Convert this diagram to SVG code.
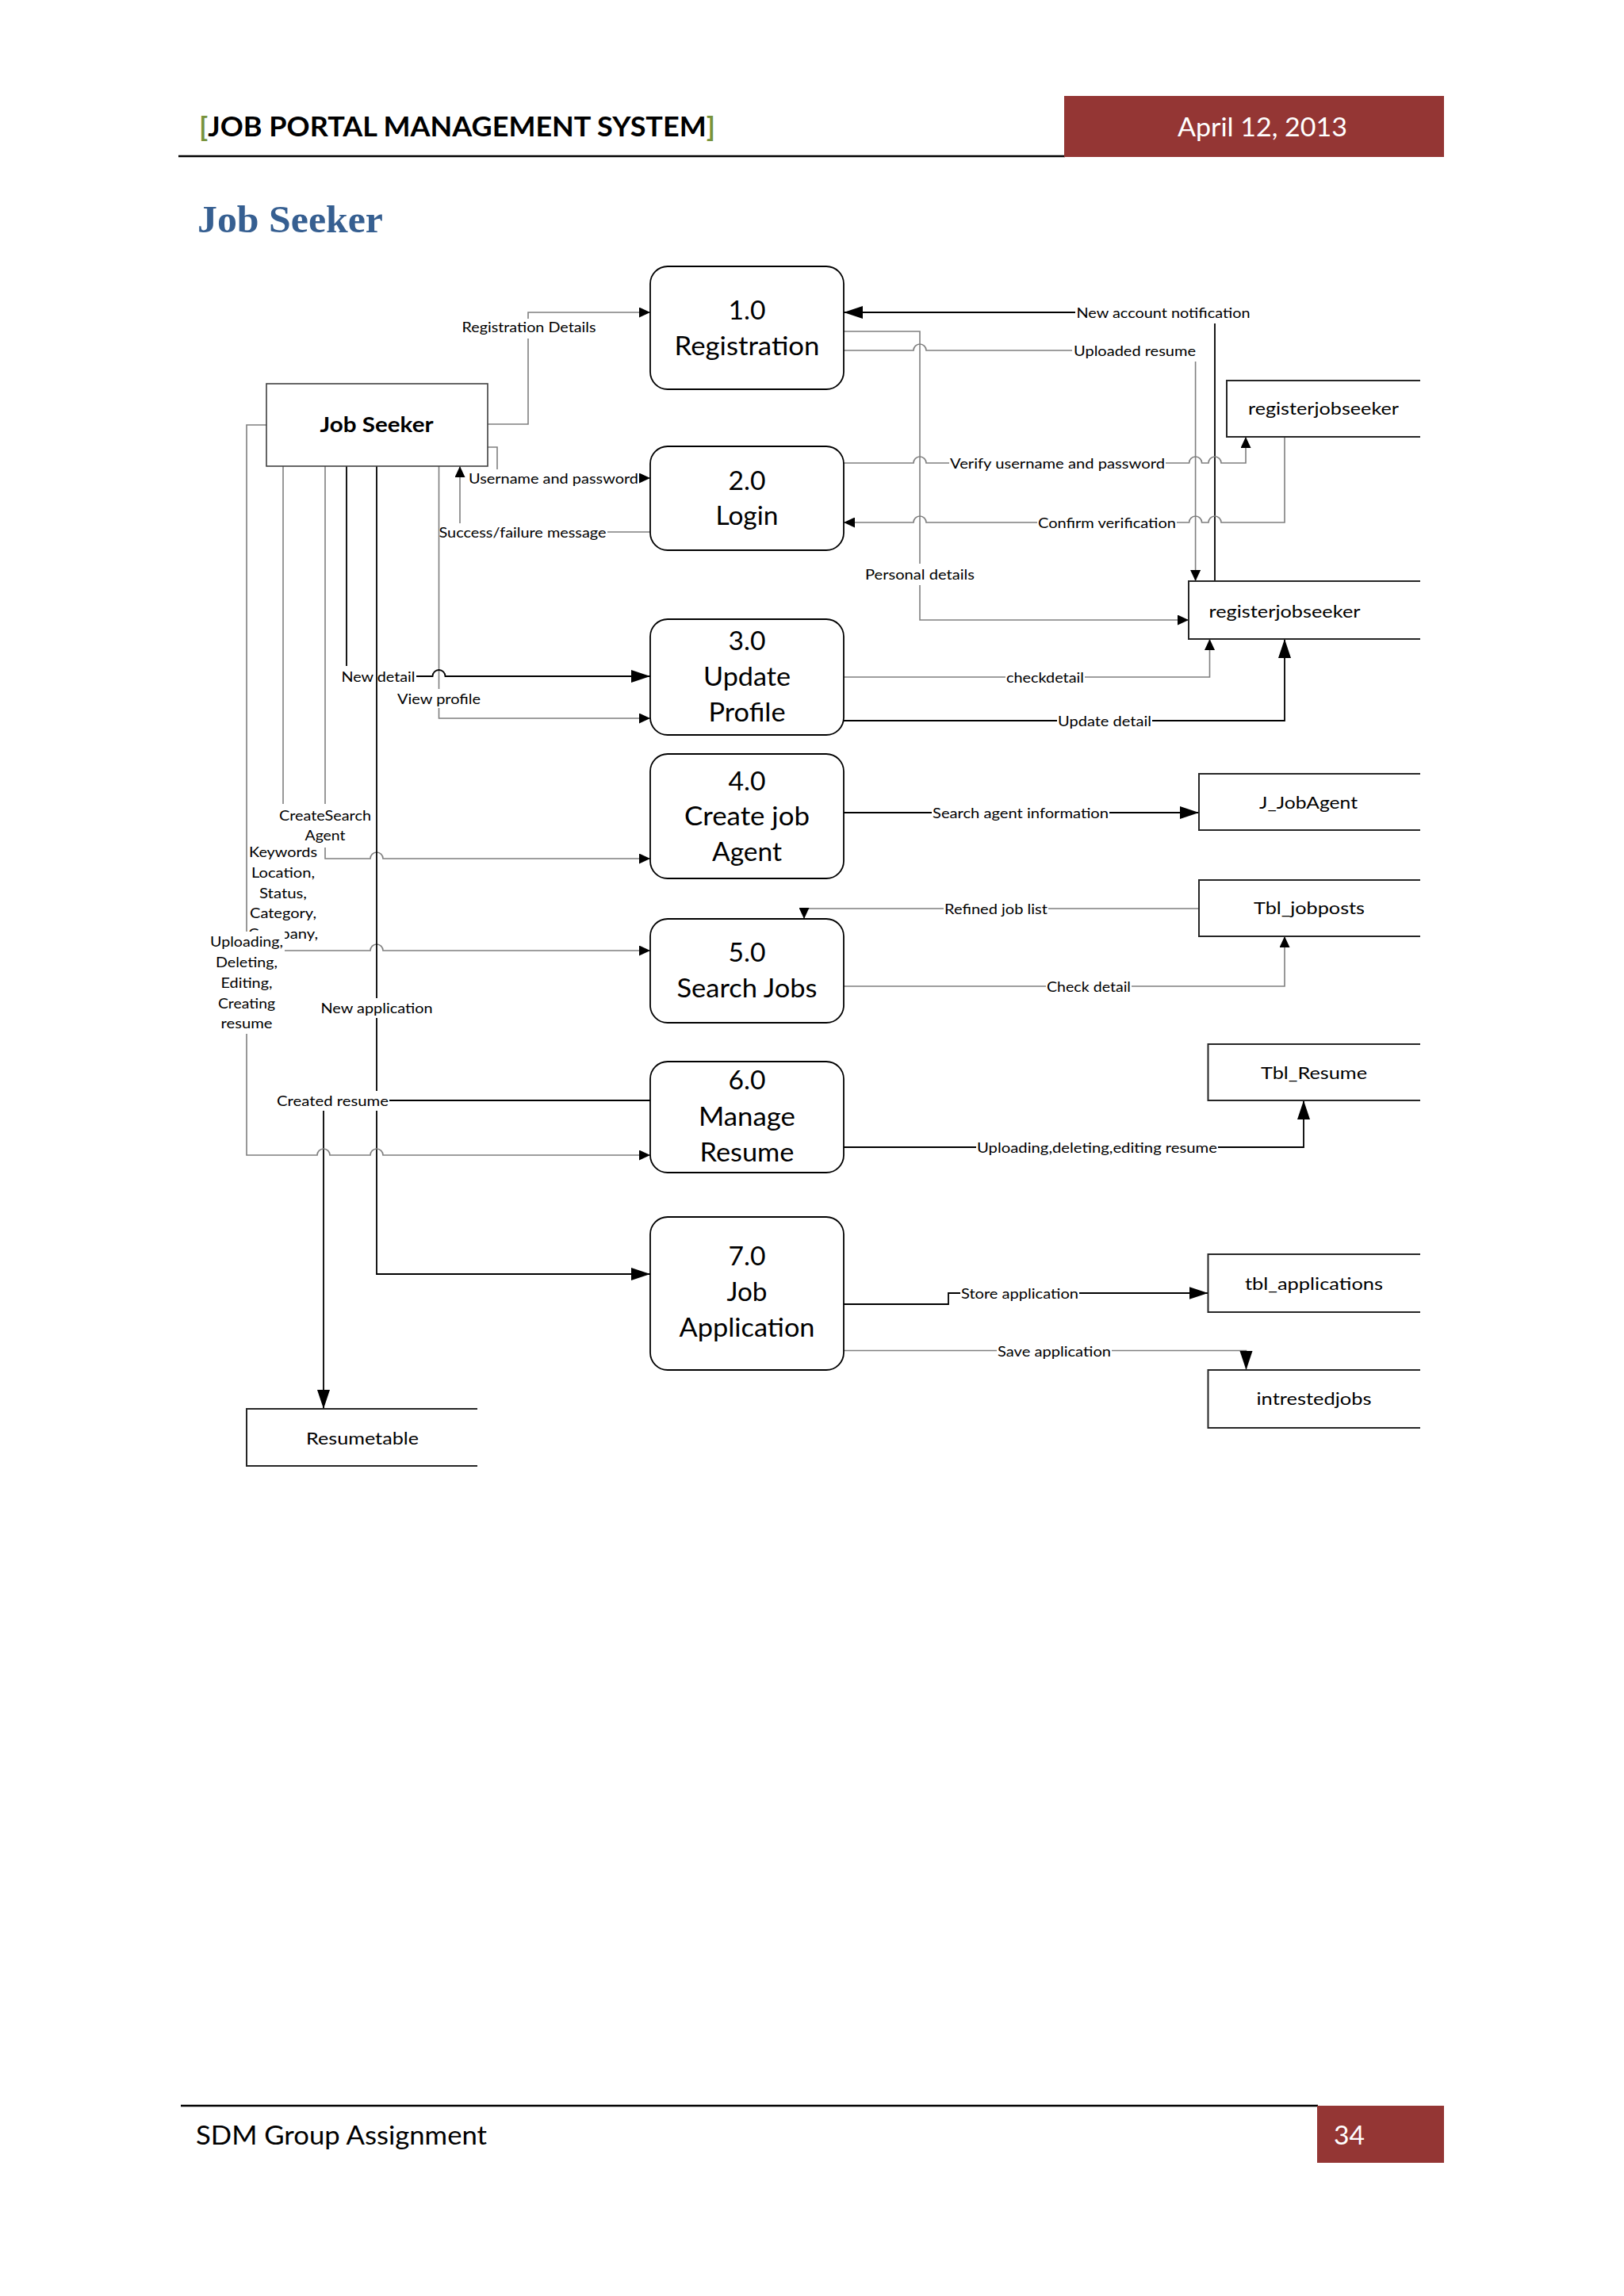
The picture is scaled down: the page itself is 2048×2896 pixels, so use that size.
<svg xmlns="http://www.w3.org/2000/svg" width="2048" height="2896" viewBox="0 0 2048 2896">
<defs>
<style>
.g{fill:none;stroke:#7f7f7f;stroke-width:1.6}
.k{fill:none;stroke:#000;stroke-width:1.8}
.bg{fill:#fff}
.lb{font-family:Lato,'Open Sans',sans-serif;font-size:18px;fill:#000;text-anchor:middle}
.pr{fill:#fff;stroke:#000;stroke-width:1.8}
.pt{font-family:Lato,'Open Sans',sans-serif;font-size:33px;fill:#000;text-anchor:middle}
.sb{fill:#fff;stroke:#262626;stroke-width:2}
.stx{font-family:Lato,'Open Sans',sans-serif;font-size:22px;fill:#000;text-anchor:middle}
.hd{font-family:Lato,'Open Sans',sans-serif}
</style>
<marker id="as" viewBox="0 0 15 13" markerWidth="15" markerHeight="13" refX="14" refY="6.5" orient="auto" markerUnits="userSpaceOnUse"><path d="M0,0 L14,6.5 L0,13 z" fill="#000"/></marker>
<marker id="ab" viewBox="0 0 25 17" markerWidth="25" markerHeight="17" refX="24" refY="8" orient="auto" markerUnits="userSpaceOnUse"><path d="M0,0 L24,8 L0,16 z" fill="#000"/></marker>
</defs>
<rect width="2048" height="2896" fill="#fff"/>

<g id="header">
<line x1="225" y1="197" x2="1343" y2="197" stroke="#000" stroke-width="2.5"/>
<rect x="1342" y="121" width="479" height="77" fill="#943634"/>
<text class="hd" x="251" y="172" font-size="35" font-weight="bold" textLength="651" lengthAdjust="spacingAndGlyphs"><tspan fill="#77933C">[</tspan>JOB PORTAL MANAGEMENT SYSTEM<tspan fill="#77933C">]</tspan></text>
<text class="hd" x="1592" y="172" font-size="32" fill="#fff" text-anchor="middle" textLength="214" lengthAdjust="spacingAndGlyphs">April 12, 2013</text>
<text x="249" y="293" font-family="'Liberation Serif',serif" font-size="48" font-weight="bold" fill="#365F91" textLength="234" lengthAdjust="spacingAndGlyphs">Job Seeker</text>
</g>

<g id="footer">
<line x1="228" y1="2656" x2="1662" y2="2656" stroke="#000" stroke-width="2.5"/>
<rect x="1661" y="2656" width="160" height="72" fill="#943634"/>
<text class="hd" x="247" y="2705" font-size="32" fill="#000" textLength="367" lengthAdjust="spacingAndGlyphs">SDM Group Assignment</text>
<text class="hd" x="1682" y="2705" font-size="32" fill="#fff" textLength="39" lengthAdjust="spacingAndGlyphs">34</text>
</g>

<g id="connectors">
<!-- Registration Details -->
<path class="g" d="M615,535 H666 V394 H820" marker-end="url(#as)"/>
<rect class="bg" x="581" y="402" width="172" height="25"/>
<text class="lb" x="667" y="419" textLength="169" lengthAdjust="spacingAndGlyphs">Registration Details</text>
<!-- Username and password -->
<path class="g" d="M615,564 H627 V603 H820" marker-end="url(#as)"/>
<rect class="bg" x="590" y="592" width="216" height="24"/>
<text class="lb" x="698" y="610" textLength="214" lengthAdjust="spacingAndGlyphs">Username and password</text>
<!-- Success/failure message -->
<path class="g" d="M820,671 H580 V588" marker-end="url(#as)"/>
<rect class="bg" x="553" y="660" width="213" height="24"/>
<text class="lb" x="659" y="678" textLength="211" lengthAdjust="spacingAndGlyphs">Success/failure message</text>
<!-- New account notification -->
<path class="k" d="M1532,733 V394 H1064" marker-end="url(#ab)"/>
<rect class="bg" x="1356" y="381" width="222" height="27"/>
<text class="lb" x="1467" y="401" textLength="219" lengthAdjust="spacingAndGlyphs">New account notification</text>
<!-- Personal details -->
<path class="g" d="M1064,418 H1160 V782 H1499" marker-end="url(#as)"/>
<rect class="bg" x="1090" y="711" width="140" height="27"/>
<text class="lb" x="1160" y="731" textLength="138" lengthAdjust="spacingAndGlyphs">Personal details</text>
<!-- Uploaded resume -->
<path class="g" d="M1064,442 H1152 A8,8 0 0 1 1168,442 H1507.6 V733" marker-end="url(#as)"/>
<rect class="bg" x="1352" y="429" width="157" height="27"/>
<text class="lb" x="1431" y="449" textLength="154" lengthAdjust="spacingAndGlyphs">Uploaded resume</text>
<!-- Verify username and password -->
<path class="g" d="M1064,584 H1152 A8,8 0 0 1 1168,584 H1499.6 A8,8 0 0 1 1515.6,584 H1524 A8,8 0 0 1 1540,584 H1571 V551" marker-end="url(#as)"/>
<rect class="bg" x="1197" y="571" width="273" height="26"/>
<text class="lb" x="1333.5" y="591" textLength="271" lengthAdjust="spacingAndGlyphs">Verify username and password</text>
<!-- Confirm verification -->
<path class="g" d="M1620,551 V659 H1540 A8,8 0 0 0 1524,659 H1515.6 A8,8 0 0 0 1499.6,659 H1168 A8,8 0 0 0 1152,659 H1064" marker-end="url(#as)"/>
<rect class="bg" x="1308" y="646" width="176" height="26"/>
<text class="lb" x="1396" y="666" textLength="174" lengthAdjust="spacingAndGlyphs">Confirm verification</text>
<!-- checkdetail -->
<path class="g" d="M1064,854 H1525.5 V806" marker-end="url(#as)"/>
<rect class="bg" x="1268" y="841" width="100" height="26"/>
<text class="lb" x="1318" y="861" textLength="98" lengthAdjust="spacingAndGlyphs">checkdetail</text>
<!-- Update detail -->
<path class="k" d="M1064,909 H1620 V806" marker-end="url(#ab)"/>
<rect class="bg" x="1333" y="896" width="120" height="26"/>
<text class="lb" x="1393" y="916" textLength="118" lengthAdjust="spacingAndGlyphs">Update detail</text>
<!-- Search agent information -->
<path class="k" d="M1064,1025 H1512" marker-end="url(#ab)"/>
<rect class="bg" x="1175" y="1012" width="224" height="26"/>
<text class="lb" x="1287" y="1032" textLength="222" lengthAdjust="spacingAndGlyphs">Search agent information</text>
<!-- Refined job list -->
<path class="g" d="M1512,1146 H1014 V1159" marker-end="url(#as)"/>
<rect class="bg" x="1190" y="1133" width="132" height="26"/>
<text class="lb" x="1256" y="1153" textLength="130" lengthAdjust="spacingAndGlyphs">Refined job list</text>
<!-- Check detail -->
<path class="g" d="M1064,1244 H1620 V1181" marker-end="url(#as)"/>
<rect class="bg" x="1319" y="1231" width="108" height="26"/>
<text class="lb" x="1373" y="1251" textLength="106" lengthAdjust="spacingAndGlyphs">Check detail</text>
<!-- Uploading,deleting,editing resume -->
<path class="k" d="M1064,1447 H1644 V1388" marker-end="url(#ab)"/>
<rect class="bg" x="1231" y="1434" width="305" height="26"/>
<text class="lb" x="1383.5" y="1454" textLength="303" lengthAdjust="spacingAndGlyphs">Uploading,deleting,editing resume</text>
<!-- Store application -->
<path class="k" d="M1064,1645 H1196 V1631 H1523.5" marker-end="url(#ab)"/>
<rect class="bg" x="1211" y="1618" width="150" height="26"/>
<text class="lb" x="1286" y="1638" textLength="148" lengthAdjust="spacingAndGlyphs">Store application</text>
<!-- Save application -->
<path class="g" d="M1064,1703.5 H1571.5 V1728" marker-end="url(#ab)"/>
<rect class="bg" x="1257" y="1691" width="145" height="26"/>
<text class="lb" x="1329.5" y="1710.5" textLength="143" lengthAdjust="spacingAndGlyphs">Save application</text>

<!-- Keywords ... -->
<path class="g" d="M357,588 V1199 H467 A8,8 0 0 1 483,1199 H820" marker-end="url(#as)"/>
<rect class="bg" x="313" y="1061" width="90" height="130"/>
<text class="lb" x="357" y="1081" textLength="86" lengthAdjust="spacingAndGlyphs">Keywords</text>
<text class="lb" x="357" y="1106.5" textLength="80" lengthAdjust="spacingAndGlyphs">Location,</text>
<text class="lb" x="357" y="1132.5" textLength="60" lengthAdjust="spacingAndGlyphs">Status,</text>
<text class="lb" x="357" y="1158" textLength="84" lengthAdjust="spacingAndGlyphs">Category,</text>
<text class="lb" x="357" y="1184" textLength="88" lengthAdjust="spacingAndGlyphs">Company,</text>
<!-- CreateSearch Agent -->
<path class="g" d="M410,588 V1083 H467 A8,8 0 0 1 483,1083 H820" marker-end="url(#as)"/>
<rect class="bg" x="351" y="1014" width="118" height="55"/>
<text class="lb" x="410" y="1035" textLength="116" lengthAdjust="spacingAndGlyphs">CreateSearch</text>
<text class="lb" x="410" y="1060" textLength="51" lengthAdjust="spacingAndGlyphs">Agent</text>
<!-- View profile -->
<path class="g" d="M553.5,588 V906 H820" marker-end="url(#as)"/>
<rect class="bg" x="500" y="869" width="107" height="24"/>
<text class="lb" x="553.5" y="887.5" textLength="105" lengthAdjust="spacingAndGlyphs">View profile</text>
<!-- New detail -->
<path class="k" d="M437,588 V853 H545.5 A8,8 0 0 1 561.5,853 H820" marker-end="url(#ab)"/>
<rect class="bg" x="429" y="840" width="96" height="26"/>
<text class="lb" x="477" y="860" textLength="93" lengthAdjust="spacingAndGlyphs">New detail</text>
<!-- New application -->
<path class="k" d="M475,588 V1607 H820" marker-end="url(#ab)"/>
<rect class="bg" x="404" y="1259" width="142" height="25"/>
<text class="lb" x="475" y="1277.5" textLength="141" lengthAdjust="spacingAndGlyphs">New application</text>
<!-- Created resume -->
<path class="k" d="M820,1388 H408 V1777" marker-end="url(#ab)"/>
<rect class="bg" x="348" y="1376" width="143" height="25"/>
<text class="lb" x="419.5" y="1395" textLength="141" lengthAdjust="spacingAndGlyphs">Created resume</text>
<!-- Uploading, Deleting, Editing, Creating resume -->
<path class="g" d="M336,536 H311 V1457 H400 A8,8 0 0 1 416,1457 H467 A8,8 0 0 1 483,1457 H820" marker-end="url(#as)"/>
<rect class="bg" x="262" y="1175" width="97" height="129"/>
<text class="lb" x="311" y="1194" textLength="92" lengthAdjust="spacingAndGlyphs">Uploading,</text>
<text class="lb" x="311" y="1220" textLength="78" lengthAdjust="spacingAndGlyphs">Deleting,</text>
<text class="lb" x="311" y="1246" textLength="65" lengthAdjust="spacingAndGlyphs">Editing,</text>
<text class="lb" x="311" y="1271.5" textLength="72" lengthAdjust="spacingAndGlyphs">Creating</text>
<text class="lb" x="311" y="1297" textLength="65" lengthAdjust="spacingAndGlyphs">resume</text>
</g>

<g id="jobseeker">
<rect x="336" y="484" width="279" height="104" fill="#fff" stroke="#404040" stroke-width="1.6"/>
<text x="475" y="545" font-family="Lato,'Open Sans',sans-serif" font-size="26" font-weight="bold" text-anchor="middle" textLength="143" lengthAdjust="spacingAndGlyphs">Job Seeker</text>
</g>

<g id="p1">
<rect class="pr" x="820" y="336" width="244" height="155" rx="22"/>
<text class="pt" x="942" y="403" textLength="47" lengthAdjust="spacingAndGlyphs">1.0</text>
<text class="pt" x="942" y="448" textLength="183" lengthAdjust="spacingAndGlyphs">Registration</text>
</g>
<g id="p2">
<rect class="pr" x="820" y="563" width="244" height="131" rx="22"/>
<text class="pt" x="942" y="618" textLength="47" lengthAdjust="spacingAndGlyphs">2.0</text>
<text class="pt" x="942" y="662" textLength="79" lengthAdjust="spacingAndGlyphs">Login</text>
</g>
<g id="p3">
<rect class="pr" x="820" y="781" width="244" height="146" rx="22"/>
<text class="pt" x="942" y="820" textLength="47" lengthAdjust="spacingAndGlyphs">3.0</text>
<text class="pt" x="942" y="865" textLength="110" lengthAdjust="spacingAndGlyphs">Update</text>
<text class="pt" x="942" y="910" textLength="97" lengthAdjust="spacingAndGlyphs">Profile</text>
</g>
<g id="p4">
<rect class="pr" x="820" y="951" width="244" height="157" rx="22"/>
<text class="pt" x="942" y="997" textLength="47" lengthAdjust="spacingAndGlyphs">4.0</text>
<text class="pt" x="942" y="1041" textLength="158" lengthAdjust="spacingAndGlyphs">Create job</text>
<text class="pt" x="942" y="1086" textLength="88" lengthAdjust="spacingAndGlyphs">Agent</text>
</g>
<g id="p5">
<rect class="pr" x="820" y="1159" width="244" height="131" rx="22"/>
<text class="pt" x="942" y="1213" textLength="47" lengthAdjust="spacingAndGlyphs">5.0</text>
<text class="pt" x="942" y="1258" textLength="177" lengthAdjust="spacingAndGlyphs">Search Jobs</text>
</g>
<g id="p6">
<rect class="pr" x="820" y="1339" width="244" height="140" rx="22"/>
<text class="pt" x="942" y="1374" textLength="47" lengthAdjust="spacingAndGlyphs">6.0</text>
<text class="pt" x="942" y="1420" textLength="122" lengthAdjust="spacingAndGlyphs">Manage</text>
<text class="pt" x="942" y="1465" textLength="119" lengthAdjust="spacingAndGlyphs">Resume</text>
</g>
<g id="p7">
<rect class="pr" x="820" y="1535" width="244" height="193" rx="22"/>
<text class="pt" x="942" y="1596" textLength="47" lengthAdjust="spacingAndGlyphs">7.0</text>
<text class="pt" x="942" y="1641" textLength="51" lengthAdjust="spacingAndGlyphs">Job</text>
<text class="pt" x="942" y="1686" textLength="171" lengthAdjust="spacingAndGlyphs">Application</text>
</g>

<g id="s1">
<path class="sb" d="M1791,480 H1547 V551 H1791"/>
<text class="stx" x="1669" y="523" textLength="190" lengthAdjust="spacingAndGlyphs">registerjobseeker</text>
</g>
<g id="s2">
<path class="sb" d="M1791,733 H1499 V806 H1791"/>
<text class="stx" x="1620" y="779" textLength="191" lengthAdjust="spacingAndGlyphs">registerjobseeker</text>
</g>
<g id="s3">
<path class="sb" d="M1791,976 H1512 V1047 H1791"/>
<text class="stx" x="1650" y="1020" textLength="124" lengthAdjust="spacingAndGlyphs">J_JobAgent</text>
</g>
<g id="s4">
<path class="sb" d="M1791,1110 H1512 V1181 H1791"/>
<text class="stx" x="1651" y="1153" textLength="140" lengthAdjust="spacingAndGlyphs">Tbl_jobposts</text>
</g>
<g id="s5">
<path class="sb" d="M1791,1317 H1523.5 V1388 H1791"/>
<text class="stx" x="1657" y="1361" textLength="134" lengthAdjust="spacingAndGlyphs">Tbl_Resume</text>
</g>
<g id="s6">
<path class="sb" d="M1791,1582 H1523.5 V1655 H1791"/>
<text class="stx" x="1657" y="1627" textLength="174" lengthAdjust="spacingAndGlyphs">tbl_applications</text>
</g>
<g id="s7">
<path class="sb" d="M1791,1728 H1523.5 V1801 H1791"/>
<text class="stx" x="1657" y="1772" textLength="145" lengthAdjust="spacingAndGlyphs">intrestedjobs</text>
</g>
<g id="s8">
<path class="sb" d="M602,1777 H311 V1849 H602"/>
<text class="stx" x="457" y="1822" textLength="142" lengthAdjust="spacingAndGlyphs">Resumetable</text>
</g>
</svg>
